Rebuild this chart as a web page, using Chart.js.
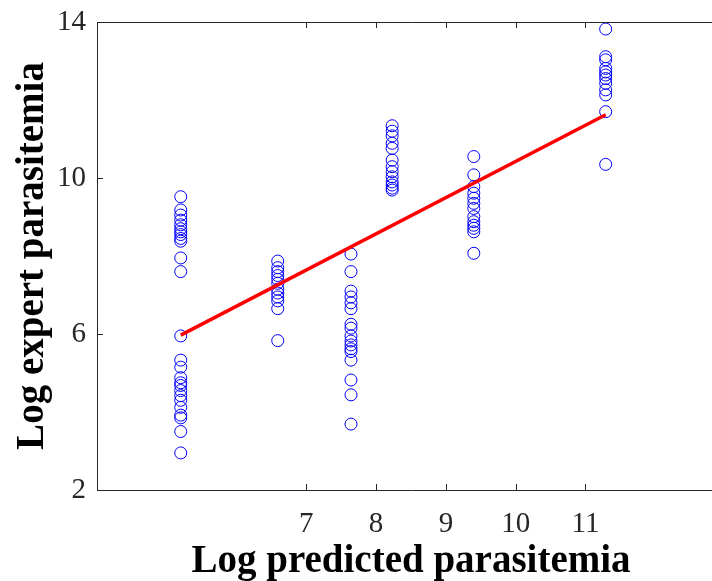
<!DOCTYPE html>
<html>
<head>
<meta charset="utf-8">
<script src="https://cdn.jsdelivr.net/npm/chart.js@4.4.1/dist/chart.umd.min.js"></script>
<style>
  html, body { margin: 0; padding: 0; background: #fff; overflow: hidden; }
  #wrap { width: 740px; height: 581px; position: relative; }
</style>
</head>
<body>
<div id="wrap"><canvas id="chart"></canvas></div>
<script>
// predicted value (x) for each group of slides
const groupX = [5.2, 6.59, 7.64, 8.23, 9.4, 11.29];

// expert values (y) for each group
const group1 = [9.52, 9.18, 9.05, 8.92, 8.8, 8.7, 8.62, 8.55, 8.45, 8.38, 7.95, 7.6,
                5.95, 5.33, 5.15, 4.88, 4.75, 4.68, 4.55, 4.42, 4.3, 4.12, 3.92, 3.85, 3.5, 2.95];
const group2 = [7.87, 7.7, 7.6, 7.5, 7.4, 7.3, 7.15, 7.05, 6.95, 6.85, 6.65, 5.83];
const group3 = [8.05, 7.6, 7.1, 6.95, 6.8, 6.65, 6.25, 6.15, 5.95, 5.82, 5.72, 5.62, 5.55, 5.33, 4.82, 4.44, 3.69];
const group4 = [11.34, 11.2, 11.08, 10.89, 10.76, 10.46, 10.29, 10.16, 10.03, 9.9, 9.82, 9.74, 9.69];
const group5 = [10.55, 10.08, 9.78, 9.61, 9.48, 9.35, 9.22, 9.01, 8.88, 8.79, 8.71, 8.62, 8.07];
const group6 = [13.82, 13.11, 13.03, 12.81, 12.72, 12.64, 12.55, 12.43, 12.26, 12.13, 11.7, 10.35];

// regression line end points
const fitX = [5.2, 11.29];
const fitY = [5.97, 11.62];

const xTicks = [7, 8, 9, 10, 11];
const yTicks = [2, 6, 10, 14];

const groups = [group1, group2, group3, group4, group5, group6];
const points = [];
groups.forEach((g, i) => {
  g.forEach(v => points.push({ x: groupX[i], y: v }));
});
const fitLine = fitX.map((x, i) => ({ x: x, y: fitY[i] }));

const axisColor = "#262626";

// matlab style box with inward ticks
const boxPlugin = {
  id: "box",
  afterDraw(chart) {
    const ctx = chart.ctx;
    const a = chart.chartArea;
    const xs = chart.scales.x, ys = chart.scales.y;
    ctx.save();
    ctx.strokeStyle = axisColor;
    ctx.lineWidth = 1;
    ctx.beginPath();
    ctx.rect(Math.round(a.left) + 0.5, Math.round(a.top) + 0.5, a.right - a.left, a.bottom - a.top);
    const tl = 6;
    xTicks.forEach(v => {
      const px = Math.round(xs.getPixelForValue(v)) + 0.5;
      ctx.moveTo(px, a.bottom); ctx.lineTo(px, a.bottom - tl);
      ctx.moveTo(px, a.top); ctx.lineTo(px, a.top + tl);
    });
    yTicks.forEach(v => {
      const py = Math.round(ys.getPixelForValue(v)) + 0.5;
      ctx.moveTo(a.left, py); ctx.lineTo(a.left + tl, py);
      ctx.moveTo(a.right, py); ctx.lineTo(a.right - tl, py);
    });
    ctx.stroke();
    ctx.restore();
  }
};

new Chart(document.getElementById("chart"), {
  type: "scatter",
  data: {
    datasets: [
      {
        type: "line",
        data: fitLine,
        borderColor: "#ff0000",
        borderWidth: 3.5,
        pointRadius: 0,
        fill: false
      },
      {
        data: points,
        pointStyle: "circle",
        pointRadius: 6,
        pointBorderWidth: 1,
        borderColor: "#0000ff",
        backgroundColor: "rgba(0,0,0,0)"
      }
    ]
  },
  options: {
    responsive: true,
    maintainAspectRatio: false,
    animation: false,
    layout: { padding: { top: 22, right: 15, left: 0, bottom: 0 } },
    plugins: { legend: { display: false }, tooltip: { enabled: false } },
    scales: {
      x: {
        type: "linear",
        min: 4,
        max: 13,
        afterBuildTicks: s => { s.ticks = xTicks.map(v => ({ value: v })); },
        afterFit: s => { s.height = 91; s.paddingLeft = 0; s.paddingRight = 0; },
        grid: { display: false, drawTicks: false },
        border: { display: false },
        ticks: {
          padding: 17,
          color: axisColor,
          font: { family: "Liberation Serif", size: 29 }
        },
        title: {
          display: true,
          text: "Log predicted parasitemia",
          color: "#000",
          font: { family: "Liberation Serif", size: 39, weight: "bold", lineHeight: 1 },
          padding: { top: 0, bottom: 0 }
        }
      },
      y: {
        type: "linear",
        min: 2,
        max: 14,
        afterBuildTicks: s => { s.ticks = yTicks.map(v => ({ value: v })); },
        afterFit: s => { s.width = 97; s.paddingTop = 0; s.paddingBottom = 0; },
        grid: { display: false, drawTicks: false },
        border: { display: false },
        ticks: {
          padding: 11,
          color: axisColor,
          font: { family: "Liberation Serif", size: 29 }
        },
        title: {
          display: true,
          text: "Log expert parasitemia",
          color: "#000",
          font: { family: "Liberation Serif", size: 39, weight: "bold" },
          padding: { top: 10, bottom: 0 }
        }
      }
    }
  },
  plugins: [boxPlugin]
});
</script>
</body>
</html>
